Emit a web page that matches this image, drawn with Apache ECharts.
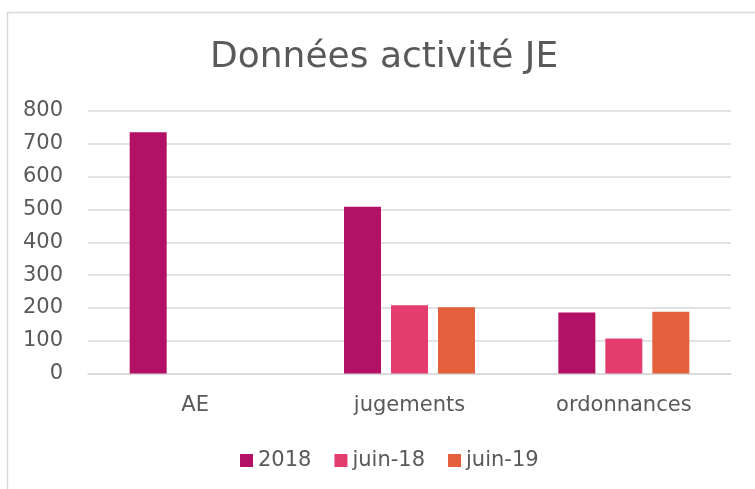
<!DOCTYPE html>
<html>
<head>
<meta charset="UTF-8">
<title>Données activité JE</title>
<script src="https://cdn.jsdelivr.net/npm/echarts@6/dist/echarts.min.js"></script>
<style>
  html, body { margin: 0; padding: 0; background: #fff; }
  #container { width: 755px; height: 489px; }
</style>
</head>
<body>
<div id="container"></div>
<script>
// donnees
var categories = ['AE', 'jugements', 'ordonnances'];
var seriesNames = ['2018', 'juin-18', 'juin-19'];
var val2018 = [735, 508, 186];
var valJuin18 = [null, 208, 107];
var valJuin19 = [null, 202, 188];
var yTicks = [0, 100, 200, 300, 400, 500, 600, 700, 800];

var colors = ['#B31166', '#E33D6F', '#E45F3C'];
var txt = '#595959';
var font = 'DejaVu Sans';

var myChart = echarts.init(document.getElementById('container'), null, { renderer: 'canvas' });

var option = {
    animation: false,
    color: colors,
    textStyle: { fontFamily: font },
    graphic: [{
        type: 'rect',
        shape: { x: 7.5, y: 12.5, width: 800, height: 600 },
        style: { fill: 'none', stroke: '#D9D9D9', lineWidth: 1.5 },
        silent: true
    }],
    title: {
        text: 'Données activité JE',
        left: 210,
        top: 40,
        padding: 0,
        textStyle: { fontFamily: font, fontSize: 36, fontWeight: 'normal', color: txt }
    },
    legend: {
        data: seriesNames,
        left: 235,
        top: 445,
        itemWidth: 13,
        itemHeight: 13,
        itemGap: 23,
        icon: 'rect',
        textStyle: { fontFamily: font, fontSize: 21, color: txt }
    },
    grid: { left: 88, right: 24, top: 111, bottom: 115.5, containLabel: false },
    xAxis: {
        type: 'category',
        data: categories,
        axisLine: { show: true, lineStyle: { color: '#D9D9D9', width: 1.5 } },
        axisTick: { show: false },
        axisLabel: { fontFamily: font, fontSize: 21, color: txt, margin: 22 }
    },
    yAxis: {
        type: 'value',
        min: yTicks[0],
        max: yTicks[yTicks.length - 1],
        interval: 100,
        axisLine: { show: false },
        axisTick: { show: false },
        splitLine: { lineStyle: { color: '#D9D9D9', width: 1.5 } },
        axisLabel: { fontFamily: font, fontSize: 21, color: txt, margin: 25 }
    },
    series: [
        { name: seriesNames[0], type: 'bar', data: val2018, barWidth: 37, barGap: '27%', barCategoryGap: '39%' },
        { name: seriesNames[1], type: 'bar', data: valJuin18, barWidth: 37 },
        { name: seriesNames[2], type: 'bar', data: valJuin19, barWidth: 37 }
    ]
};

myChart.setOption(option);
</script>
</body>
</html>
